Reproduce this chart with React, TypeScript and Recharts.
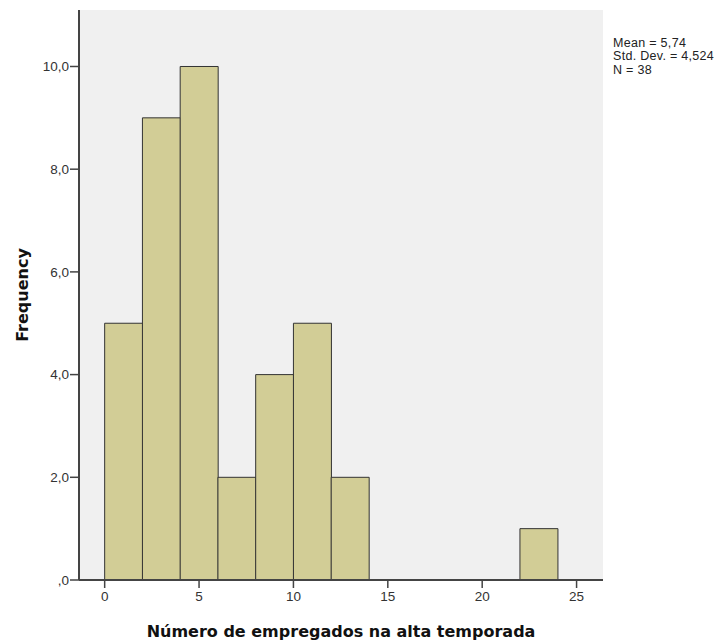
import React from "react";
import {
  Bar,
  CartesianGrid,
  ComposedChart,
  XAxis,
  YAxis,
} from "recharts";

// histogram bins (lower edge) and counts
const binStarts = [0, 2, 4, 6, 8, 10, 12, 14, 16, 18, 20, 22];
const frequencies = [5, 9, 10, 2, 4, 5, 2, 0, 0, 0, 0, 1];
const binWidth = 2;

const xTicks = [0, 5, 10, 15, 20, 25];
const yTicks = [0, 2, 4, 6, 8, 10];

const statsLines = ["Mean = 5,74", "Std. Dev. = 4,524", "N = 38"];

const data = binStarts.map((start, i) => ({
  mid: start + binWidth / 2,
  freq: frequencies[i],
}));

const tickFont = { fill: "#333", fontSize: 13.5, fontFamily: "Liberation Sans, Arial, sans-serif" };
const titleFont = {
  fill: "#111",
  fontSize: 16,
  fontWeight: 700,
  fontFamily: "DejaVu Sans, Verdana, sans-serif",
};

const fmtY = (v: number) => (v === 0 ? ",0" : v.toFixed(1).replace(".", ","));

export default function App() {
  return (
    <div style={{ position: "absolute", left: 0, top: 0, width: 725, height: 644, background: "#fff" }}>
      <ComposedChart
        width={725}
        height={644}
        data={data}
        margin={{ top: 10, right: 122, left: 0, bottom: 0 }}
        barCategoryGap={0}
        barGap={0}
      >
        <CartesianGrid fill="#f0f0f0" horizontal={false} vertical={false} />
        <XAxis
          dataKey="mid"
          type="number"
          domain={[-1.36, 26.4]}
          allowDataOverflow
          ticks={xTicks}
          height={64}
          tickSize={8}
          tickMargin={3}
          fontSize={13.5}
          axisLine={{ stroke: "#444", strokeWidth: 2 }}
          tickLine={{ stroke: "#444", strokeWidth: 1.5 }}
          tick={tickFont}
          label={{
            value: "Número de empregados na alta temporada",
            position: "insideBottom",
            offset: 7,
            style: titleFont,
          }}
        />
        <XAxis
          xAxisId="top"
          orientation="top"
          type="number"
          domain={[0, 1]}
          height={0}
          tick={false}
          tickLine={false}
          axisLine={{ stroke: "#777", strokeWidth: 2 }}
        />
        <YAxis
          type="number"
          domain={[0, 11.1]}
          allowDataOverflow
          ticks={yTicks}
          width={79}
          tickSize={9}
          tickMargin={1}
          fontSize={13.5}
          tickFormatter={fmtY}
          axisLine={{ stroke: "#444", strokeWidth: 2 }}
          tickLine={{ stroke: "#444", strokeWidth: 1.5 }}
          tick={tickFont}
          label={{
            value: "Frequency",
            angle: -90,
            position: "insideLeft",
            offset: 22,
            style: { ...titleFont, textAnchor: "middle" },
          }}
        />
        <YAxis
          yAxisId="right"
          orientation="right"
          type="number"
          domain={[0, 1]}
          width={0}
          tick={false}
          tickLine={false}
          axisLine={{ stroke: "#777", strokeWidth: 2 }}
        />
        <Bar
          dataKey="freq"
          fill="#d2cd96"
          stroke="#333"
          strokeWidth={1}
          isAnimationActive={false}
        />
      </ComposedChart>
      <div
        style={{
          position: "absolute",
          left: 613,
          top: 37,
          fontFamily: "Liberation Sans, Arial, sans-serif",
          fontSize: 12.5,
          letterSpacing: 0.3,
          lineHeight: "13.4px",
          color: "#222",
          whiteSpace: "nowrap",
        }}
      >
        {statsLines.map((s) => (
          <div key={s}>{s}</div>
        ))}
      </div>
    </div>
  );
}
